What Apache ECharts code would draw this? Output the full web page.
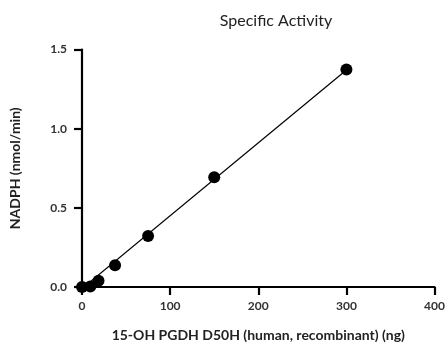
<!DOCTYPE html>
<html><head><meta charset="utf-8">
<script src="https://cdn.jsdelivr.net/npm/echarts@6/dist/echarts.min.js"></script>
<style>html,body{margin:0;padding:0;background:#fff}#c{width:448px;height:347px}</style>
</head><body><div id="c"></div>
<script>
const amountNg = [0, 9.4, 18.75, 37.5, 75, 150, 300];
const nadph = [0.0, 0.003, 0.04, 0.137, 0.322, 0.693, 1.373];
const fitX = [0, 300];
const fitY = [-0.01, 1.37];
const xTicks = [0, 100, 200, 300, 400];
const yTicks = [0, 0.5, 1.0, 1.5];

const chart = echarts.init(document.getElementById('c'));
const font = 'Lato, "Open Sans", sans-serif';
chart.setOption({
  animation: false,
  title: {text: 'Specific Activity', left: 271, top: 8, textAlign: 'center',
    textStyle: {fontFamily: font, fontSize: 16, fontWeight: 'normal', color: '#222'}},
  grid: {left: 79, right: 9, top: 49.5, bottom: 58, containLabel: false},
  xAxis: {type: 'value', min: xTicks[0], max: xTicks[xTicks.length-1], interval: 100,
    name: '15-OH PGDH D50H (human, recombinant) (ng)', nameLocation: 'middle', nameGap: 41,
    nameTextStyle: {fontFamily: font, fontSize: 14, fontWeight: 'bold', color: '#222'},
    axisLine: {lineStyle: {color: '#000', width: 2.2}},
    axisTick: {length: 8, lineStyle: {color: '#000', width: 2.2}},
    axisLabel: {fontFamily: font, fontSize: 12, fontWeight: 'bold', color: '#333', margin: 13},
    splitLine: {show: false}},
  yAxis: {type: 'value', min: yTicks[0], max: yTicks[yTicks.length-1], interval: 0.5,
    name: 'NADPH (nmol/min)', nameLocation: 'middle', nameGap: 60,
    nameTextStyle: {fontFamily: font, fontSize: 14, fontWeight: 'bold', color: '#222'},
    axisLine: {lineStyle: {color: '#000', width: 2.2}},
    axisTick: {length: 8, lineStyle: {color: '#000', width: 2.2}},
    axisLabel: {fontFamily: font, fontSize: 12, fontWeight: 'bold', color: '#333', margin: 15,
      formatter: v => v.toFixed(1)},
    splitLine: {show: false}},
  series: [
    {type: 'line', data: fitX.map((x,i)=>[x, fitY[i]]), showSymbol: false, symbol: 'none',
      lineStyle: {color: '#000', width: 1.2}, z: 2},
    {type: 'scatter', data: amountNg.map((x,i)=>[x, nadph[i]]), symbol: 'circle', symbolSize: 12,
      itemStyle: {color: '#000', opacity: 1}, z: 3}
  ]
});
</script></body></html>
